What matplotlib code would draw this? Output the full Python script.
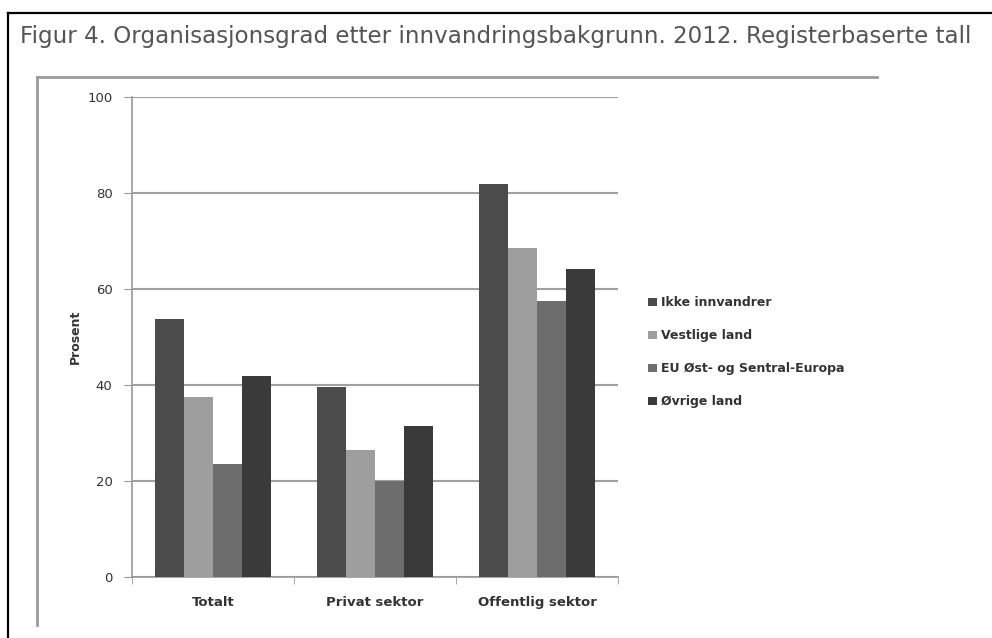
import numpy as np
import matplotlib.pyplot as plt
from matplotlib.lines import Line2D
from matplotlib.patches import Patch

categories = ['Totalt', 'Privat sektor', 'Offentlig sektor']
series_names = ['Ikke innvandrer', 'Vestlige land', 'EU Øst- og Sentral-Europa', 'Øvrige land']
ikke = [53.7, 39.6, 81.8]
vestlige = [37.6, 26.5, 68.6]
eu_ost = [23.6, 20.0, 57.5]
ovrige = [41.9, 31.5, 64.2]
colors = ['#4b4b4b', '#9e9e9e', '#6d6d6d', '#3a3a3a']

fig = plt.figure(figsize=(9.92, 6.38), dpi=100)
W, H = 992.0, 638.0

# outer black border (left + top only, like the cropped screenshot)
fig.add_artist(Line2D([8 / W, 8 / W], [0, 1 - 13 / H], color='black', lw=1.6))
fig.add_artist(Line2D([8 / W, 1], [1 - 13 / H, 1 - 13 / H], color='black', lw=1.6))
# inner gray chart frame
fig.add_artist(Line2D([37 / W, 37 / W], [1 - 625 / H, 1 - 77 / H], color='#9a9a9a', lw=2))
fig.add_artist(Line2D([37 / W, 877 / W], [1 - 77 / H, 1 - 77 / H], color='#9a9a9a', lw=2))

fig.text(20 / W, 1 - 36 / H, 'Figur 4. Organisasjonsgrad etter innvandringsbakgrunn. 2012. Registerbaserte tall',
         fontsize=16.6, color='#555555', va='center', ha='left')

ax = fig.add_axes([132 / W, 1 - 577 / H, (618 - 132) / W, (577 - 97) / H])
data = [ikke, vestlige, eu_ost, ovrige]
x = np.arange(len(categories))
bw = 0.18
for i, (vals, c) in enumerate(zip(data, colors)):
    ax.bar(x + (i - 1.5) * bw, vals, bw, color=c, label=series_names[i], zorder=3)

ax.set_xlim(-0.5, 2.5)
ax.set_ylim(0, 100)
ax.set_yticks(range(0, 101, 20))
ax.yaxis.grid(True, color='#a0a0a0', lw=1.5, zorder=0)
ax.set_xticks(x)
ax.set_xticklabels(categories, fontsize=9.5, fontweight='bold', color='#333333')
ax.set_xticks([-0.5, 0.5, 1.5, 2.5], minor=True)
ax.tick_params(axis='x', which='major', length=0, pad=14)
ax.tick_params(axis='x', which='minor', length=5, color='#999999')
ax.tick_params(axis='y', length=6, color='#999999', labelsize=9.5, labelcolor='#333333', pad=8)
for s in ['top', 'right']:
    ax.spines[s].set_visible(False)
for s in ['left', 'bottom']:
    ax.spines[s].set_color('#999999')
    ax.spines[s].set_linewidth(1.2)
ax.set_ylabel('Prosent', fontsize=9, fontweight='bold', color='#333333', labelpad=4)

handles = [Patch(facecolor=c) for c in colors]
leg = fig.legend(handles, series_names, loc='upper left', bbox_to_anchor=(637 / W, 1 - 285 / H),
                 frameon=False, prop={'weight': 'bold', 'size': 9},
                 handlelength=0.7, handleheight=0.7, handletextpad=0.3, labelspacing=1.6)
for t in leg.get_texts():
    t.set_color('#333333')

fig.savefig('out.png', dpi=100)
